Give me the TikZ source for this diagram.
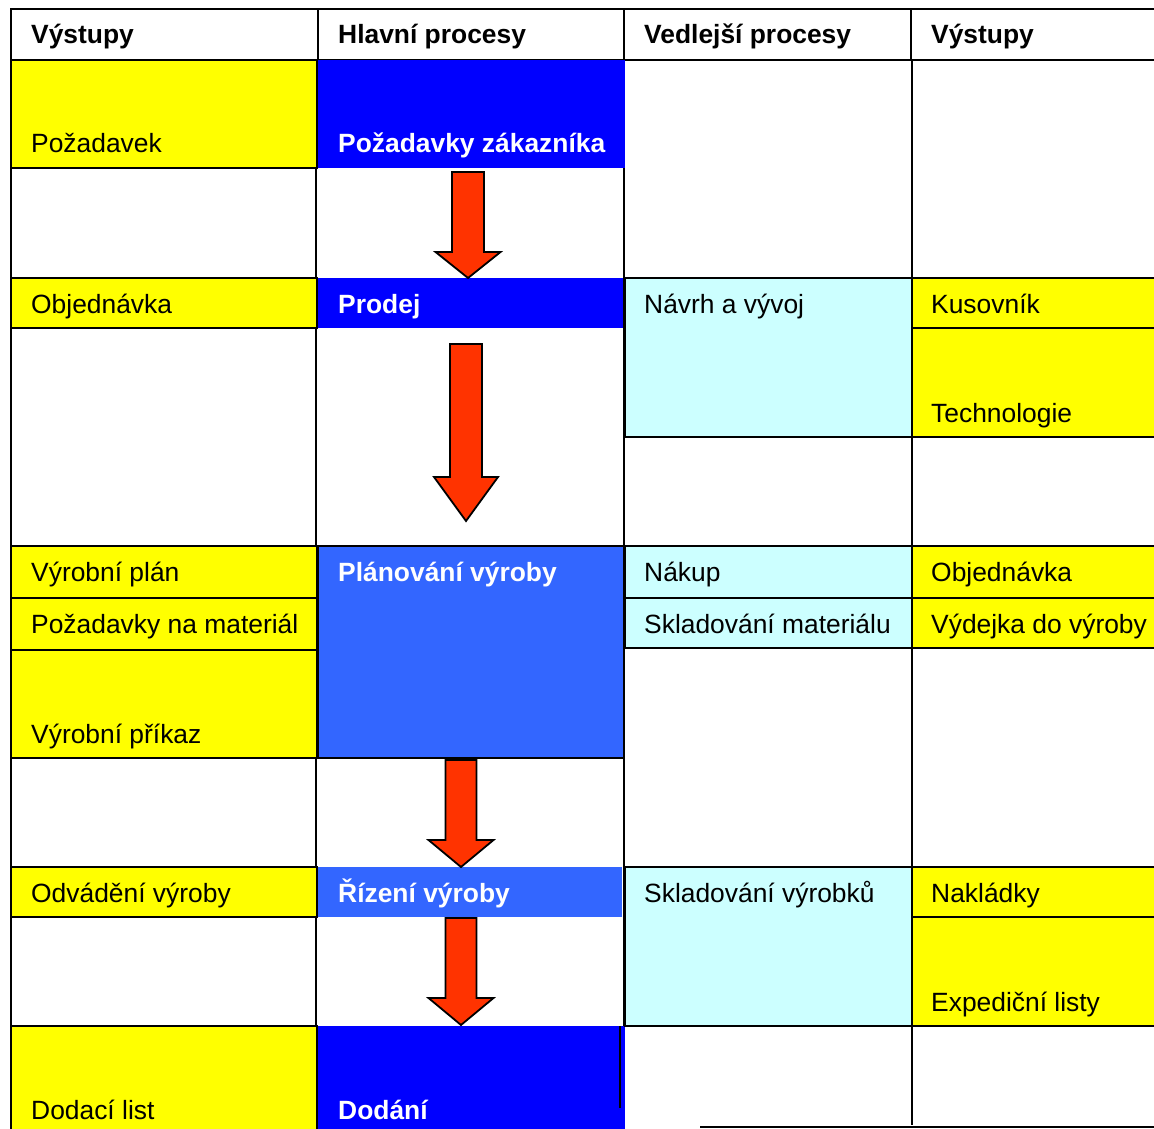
\documentclass[tikz,border=0pt]{standalone}
\usepackage{fontspec}
\setmainfont{Liberation Sans}
\definecolor{cellyellow}{HTML}{FFFF00}
\definecolor{deepblue}{HTML}{0000FF}
\definecolor{midblue}{HTML}{3366FF}
\definecolor{palecyan}{HTML}{CCFFFF}
\definecolor{arrowred}{HTML}{FF3300}
\begin{document}
\begin{tikzpicture}[x=1pt,y=-1pt,
  gridline/.style={draw=black,line width=1.8pt},
  ycell/.style={fill=cellyellow,draw=black,line width=2.6pt},
  ccell/.style={fill=palecyan,draw=black,line width=2.4pt},
  bcell/.style={fill=deepblue},
  mcell/.style={fill=midblue},
  mcellb/.style={fill=midblue,draw=black,line width=2.4pt},
  blockarrow/.style={fill=arrowred,draw=black,line width=1.8pt,line join=miter},
  txt/.style={anchor=base west,inner sep=0pt,font=\fontsize{26.4}{31}\selectfont},
  hdr/.style={txt,font=\fontsize{26.4}{31}\selectfont\bfseries},
  wtxt/.style={txt,text=white,font=\fontsize{26.4}{31}\selectfont\bfseries}]
\useasboundingbox (0,0) rectangle (1154,1129);
\clip (0,0) rectangle (1154,1129);
% grid lines in gaps
\draw[gridline] (11,9) -- (11,1135);
\draw[gridline] (316,60) -- (316,1135);
\draw[gridline] (624,60) -- (624,1110);
\draw[gridline] (912,60) -- (912,1125);
\draw[gridline] (700,1127) -- (1160,1127);
% header
\draw[line width=2.6pt] (11,9) rectangle (1165,60);
\draw[line width=2.6pt] (318,9) -- (318,60) (624,9) -- (624,60) (911,9) -- (911,60);
% column 1 (outputs)
\path[ycell] (11,60) rectangle (317,168);
\path[ycell] (11,278) rectangle (317,328);
\path[ycell] (11,546) rectangle (317,598);
\path[ycell] (11,598) rectangle (317,650);
\path[ycell] (11,650) rectangle (317,758);
\path[ycell] (11,867) rectangle (317,917);
\path[ycell] (11,1026) rectangle (317,1140);
% column 2 (main processes)
\path[bcell] (318,60) rectangle (625,168);
\path[bcell] (318,278) rectangle (623,328);
\path[mcellb] (318,546) rectangle (624,758);
\path[mcell] (318,867) rectangle (622,917);
\path[bcell] (318,1026) rectangle (625,1140);
\draw[gridline] (620,1026) -- (620,1108);
% column 3 (side processes)
\path[ccell] (625,278) rectangle (912,437);
\path[ccell] (625,546) rectangle (912,598);
\path[ccell] (625,598) rectangle (912,648);
\path[ccell] (625,867) rectangle (912,1026);
% column 4 (outputs)
\path[ycell] (912,278) rectangle (1165,328);
\path[ycell] (912,328) rectangle (1165,437);
\path[ycell] (912,546) rectangle (1165,598);
\path[ycell] (912,598) rectangle (1165,648);
\path[ycell] (912,867) rectangle (1165,917);
\path[ycell] (912,917) rectangle (1165,1026);
% arrows
\path[blockarrow] (452,172) -- (484,172) -- (484,252) -- (500.5,252) -- (468,278) -- (435.5,252) -- (452,252) -- cycle;
\path[blockarrow] (450,344) -- (482,344) -- (482,477) -- (498,477) -- (466,521) -- (434,477) -- (450,477) -- cycle;
\path[blockarrow] (445.5,760) -- (476.5,760) -- (476.5,840) -- (493.5,840) -- (461,867) -- (428.5,840) -- (445.5,840) -- cycle;
\path[blockarrow] (445.5,918) -- (476.5,918) -- (476.5,998) -- (493.5,998) -- (461,1025) -- (428.5,998) -- (445.5,998) -- cycle;
% headers
\node[hdr] (h1) at (31,44) {Výstupy};
\node[hdr] (h2) at (338,44) {Hlavní procesy};
\node[hdr] (h3) at (644,44) {Vedlejší procesy};
\node[hdr] (h4) at (931,44) {Výstupy};
% row A
\node[txt] (pozadavek) at (31,153) {Požadavek};
\node[wtxt] (zakaznik) at (338,153) {Požadavky zákazníka};
% row B
\node[txt] (obj1) at (31,313) {Objednávka};
\node[wtxt] (prodej) at (338,313) {Prodej};
\node[txt] (navrh) at (644,313) {Návrh a vývoj};
\node[txt] (kusovnik) at (931,313) {Kusovník};
\node[txt] (technologie) at (931,422) {Technologie};
% row C
\node[txt] (vplan) at (31,581) {Výrobní plán};
\node[wtxt] (planovani) at (338,581) {Plánování výroby};
\node[txt] (nakup) at (644,581) {Nákup};
\node[txt] (obj2) at (931,581) {Objednávka};
\node[txt] (pozmat) at (31,633) {Požadavky na materiál};
\node[txt] (sklmat) at (644,633) {Skladování materiálu};
\node[txt] (vydejka) at (931,633) {Výdejka do výroby};
\node[txt] (prikaz) at (31,743) {Výrobní příkaz};
% row D
\node[txt] (odvadeni) at (31,902) {Odvádění výroby};
\node[wtxt] (rizeni) at (338,902) {Řízení výroby};
\node[txt] (sklvyr) at (644,902) {Skladování výrobků};
\node[txt] (nakladky) at (931,902) {Nakládky};
\node[txt] (expedice) at (931,1011) {Expediční listy};
% row E
\node[txt] (dodlist) at (31,1119) {Dodací list};
\node[wtxt] (dodani) at (338,1119) {Dodání};
\end{tikzpicture}
\end{document}
